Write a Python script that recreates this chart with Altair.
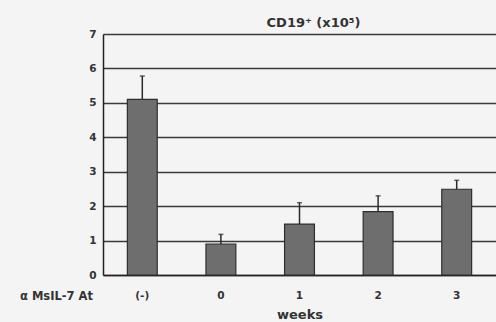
import altair as alt
import pandas as pd

# CD19+ cell counts (x10^5) after anti-mouse IL-7 antibody treatment
groups = ["(-)", "0", "1", "2", "3"]
means = [5.1, 0.9, 1.48, 1.84, 2.49]
err_tops = [5.78, 1.18, 2.1, 2.3, 2.75]
y_ticks = [0, 1, 2, 3, 4, 5, 6, 7]

df = pd.DataFrame({"group": groups, "mean": means, "top": err_tops})

W, H = 393, 241
FONT = "DejaVu Sans"
INK = "#333333"

x_axis = alt.Axis(
    title="weeks", labelAngle=0, ticks=False, domain=True,
    domainColor="#222", domainWidth=1.5,
    labelFont=FONT, labelFontWeight="bold", labelFontSize=10.5, labelColor=INK,
    labelPadding=15, titleFont=FONT, titleFontWeight="bold", titleFontSize=13,
    titleColor=INK, titlePadding=8,
)
x_scale = alt.Scale(paddingInner=0.62, paddingOuter=0.31)
y_axis = alt.Axis(
    title=None, values=y_ticks, ticks=False, domain=True, labelOverlap=False,
    domainColor="#222", domainWidth=1.5, grid=True, gridColor="#3a3a3a",
    gridWidth=1.4, labelFont=FONT, labelFontWeight="bold", labelFontSize=10.5,
    labelColor=INK, labelPadding=7,
)
y_scale = alt.Scale(domain=[0, 7], nice=False)

def xenc():
    return alt.X("group:N", sort=groups, scale=x_scale, axis=x_axis)

bars = alt.Chart(df).mark_bar(
    color="#6e6e6e", stroke="#2e2e2e", strokeWidth=1.2
).encode(
    x=xenc(),
    y=alt.Y("mean:Q", scale=y_scale, axis=y_axis),
)

whisker = alt.Chart(df).mark_rule(color="#2a2a2a", strokeWidth=1.5).encode(
    x=xenc(), y=alt.Y("mean:Q", scale=y_scale, axis=y_axis), y2="top:Q"
)
cap = alt.Chart(df).mark_tick(color="#2a2a2a", thickness=1.5, size=5).encode(
    x=xenc(), y=alt.Y("top:Q", scale=y_scale, axis=y_axis)
)

row_label = alt.Chart(pd.DataFrame({"t": ["\u03b1 MsIL-7 At"]})).mark_text(
    align="right", baseline="middle", font=FONT, fontWeight="bold",
    fontSize=11.5, color=INK,
).encode(text="t:N", x=alt.value(-10), y=alt.value(H + 22))

chart = alt.layer(bars, whisker, cap, row_label).properties(
    width=W, height=H,
    title=alt.TitleParams(
        "CD19\u207a (x10\u2075)", font=FONT, fontWeight="bold", fontSize=13,
        color=INK, anchor="middle", dx=14, dy=3, offset=2,
    ),
    autosize=alt.AutoSizeParams(type="none"),
    padding={"left": 103, "top": 34, "right": 0, "bottom": 47},
).configure(background="#f4f4f4").configure_view(stroke=None)

chart.save("out.html", embed_options={"renderer": "svg", "actions": False})
